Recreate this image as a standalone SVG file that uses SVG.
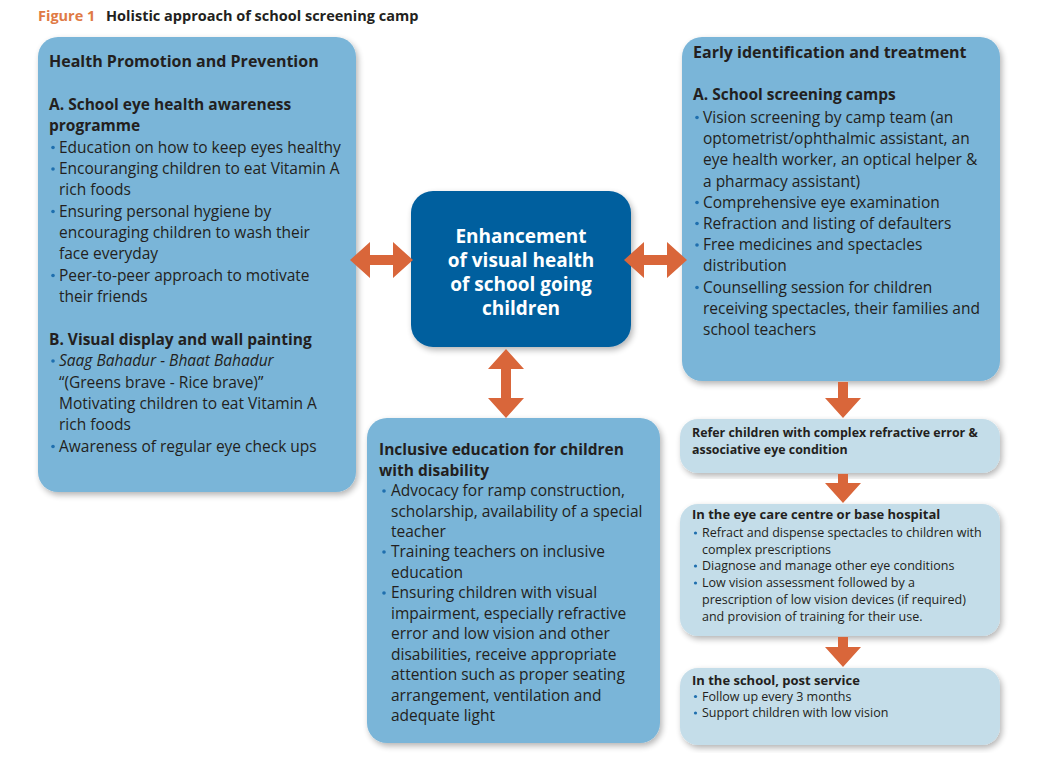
<svg xmlns="http://www.w3.org/2000/svg" width="1056" height="762" viewBox="0 0 1056 762">
<defs>
<filter id="sh" x="-10%" y="-10%" width="120%" height="120%">
<feGaussianBlur in="SourceAlpha" stdDeviation="3"/>
<feOffset dx="2" dy="3" result="b"/>
<feComponentTransfer><feFuncA type="linear" slope="0.3"/></feComponentTransfer>
<feMerge><feMergeNode/><feMergeNode in="SourceGraphic"/></feMerge>
</filter>
</defs>
<style>
text{font-family:"Open Sans","Noto Sans","DejaVu Sans",sans-serif;fill:#231f20}
.mid{fill:#7ab5d8}
.lt{fill:#c4dde9}
.dk{fill:#005f9e}
.t{font-size:15.5px}
.b{font-weight:bold}
.s{font-size:12.5px}
.sb{font-size:13px;font-weight:bold}
.w{fill:#ffffff;font-weight:bold;font-size:19px}
.dot{fill:#1f6fae}
.arr{fill:#d9663a}
</style>
<rect width="1056" height="762" fill="#ffffff"/>
<text y="21" font-size="14.5" font-weight="bold"><tspan x="38" style="fill:#e07a45">Figure 1</tspan><tspan x="106">Holistic approach of school screening camp</tspan></text>

<g id="health-promotion">
<rect class="mid" x="38" y="37" width="318" height="455" rx="20" filter="url(#sh)"/>
<text class="b" font-size="16" x="49" y="67">Health Promotion and Prevention</text>
<text class="t b" x="49" y="110">A. School eye health awareness</text>
<text class="t b" x="49" y="131">programme</text>
<g class="t">
<text x="59" y="152.5">Education on how to keep eyes healthy</text>
<text x="59" y="174">Encouranging children to eat Vitamin A</text>
<text x="59" y="195">rich foods</text>
<text x="59" y="216.5">Ensuring personal hygiene by</text>
<text x="59" y="237.5">encouraging children to wash their</text>
<text x="59" y="258.5">face everyday</text>
<text x="59" y="280.5">Peer-to-peer approach to motivate</text>
<text x="59" y="301.5">their friends</text>
</g>
<text class="t b" x="49" y="345">B. Visual display and wall painting</text>
<g class="t">
<text x="59" y="366" font-style="italic">Saag Bahadur - Bhaat Bahadur</text>
<text x="59" y="388">“(Greens brave - Rice brave)”</text>
<text x="59" y="409">Motivating children to eat Vitamin A</text>
<text x="59" y="430">rich foods</text>
<text x="59" y="451.5">Awareness of regular eye check ups</text>
</g>
<g class="dot">
<circle cx="53" cy="147.5" r="1.8"/><circle cx="53" cy="169" r="1.8"/><circle cx="53" cy="211.5" r="1.8"/><circle cx="53" cy="275.5" r="1.8"/><circle cx="53" cy="361" r="1.8"/><circle cx="53" cy="446.5" r="1.8"/>
</g>
</g>

<g id="center">
<rect class="dk" x="411" y="191" width="220" height="156" rx="22" filter="url(#sh)"/>
<text class="w" x="521" y="243" text-anchor="middle">Enhancement</text>
<text class="w" x="521" y="267" text-anchor="middle">of visual health</text>
<text class="w" x="521" y="291" text-anchor="middle">of school going</text>
<text class="w" x="521" y="315" text-anchor="middle">children</text>
</g>

<g id="early-identification">
<rect class="mid" x="682" y="37" width="318" height="344" rx="20" filter="url(#sh)"/>
<text class="b" font-size="16" x="693" y="58">Early identification and treatment</text>
<text class="t b" x="693" y="100">A. School screening camps</text>
<g class="t">
<text x="703" y="122.5">Vision screening by camp team (an</text>
<text x="703" y="143.5">optometrist/ophthalmic assistant, an</text>
<text x="703" y="165">eye health worker, an optical helper &amp;</text>
<text x="703" y="186.5">a pharmacy assistant)</text>
<text x="703" y="207.5">Comprehensive eye examination</text>
<text x="703" y="228.5">Refraction and listing of defaulters</text>
<text x="703" y="250">Free medicines and spectacles</text>
<text x="703" y="271">distribution</text>
<text x="703" y="292.5">Counselling session for children</text>
<text x="703" y="313.5">receiving spectacles, their families and</text>
<text x="703" y="335">school teachers</text>
</g>
<g class="dot">
<circle cx="697" cy="117.5" r="1.8"/><circle cx="697" cy="202.5" r="1.8"/><circle cx="697" cy="223.5" r="1.8"/><circle cx="697" cy="245" r="1.8"/><circle cx="697" cy="287.5" r="1.8"/>
</g>
</g>

<g id="inclusive-education">
<rect class="mid" x="367" y="418" width="293" height="325" rx="20" filter="url(#sh)"/>
<text class="t b" x="379" y="455">Inclusive education for children</text>
<text class="t b" x="379" y="475.5">with disability</text>
<g class="t">
<text x="391" y="496">Advocacy for ramp construction,</text>
<text x="391" y="516.5">scholarship, availability of a special</text>
<text x="391" y="537">teacher</text>
<text x="391" y="557">Training teachers on inclusive</text>
<text x="391" y="577.5">education</text>
<text x="391" y="598">Ensuring children with visual</text>
<text x="391" y="618.5">impairment, especially refractive</text>
<text x="391" y="639">error and low vision and other</text>
<text x="391" y="659.5">disabilities, receive appropriate</text>
<text x="391" y="680">attention such as proper seating</text>
<text x="391" y="700.5">arrangement, ventilation and</text>
<text x="391" y="721">adequate light</text>
</g>
<g class="dot">
<circle cx="384" cy="491" r="1.8"/><circle cx="384" cy="552" r="1.8"/><circle cx="384" cy="593" r="1.8"/>
</g>
</g>

<g id="refer">
<rect class="lt" x="680" y="419" width="320" height="54" rx="18" filter="url(#sh)"/>
<text class="sb" font-size="12.4" style="font-size:12.4px" x="692" y="437">Refer children with complex refractive error &amp;</text>
<text class="sb" style="font-size:12.4px" x="692" y="453.5">associative eye condition</text>
</g>

<g id="eye-care-centre">
<rect class="lt" x="680" y="504" width="320" height="132" rx="18" filter="url(#sh)"/>
<text class="sb" x="692" y="518.5">In the eye care centre or base hospital</text>
<g class="s">
<text x="702" y="537">Refract and dispense spectacles to children with</text>
<text x="702" y="553.5">complex prescriptions</text>
<text x="702" y="570">Diagnose and manage other eye conditions</text>
<text x="702" y="587">Low vision assessment followed by a</text>
<text x="702" y="603.5">prescription of low vision devices (if required)</text>
<text x="702" y="620.5">and provision of training for their use.</text>
</g>
<g class="dot">
<circle cx="695.5" cy="533" r="1.6"/><circle cx="695.5" cy="566" r="1.6"/><circle cx="695.5" cy="583" r="1.6"/>
</g>
</g>

<g id="school-post-service">
<rect class="lt" x="680" y="668" width="320" height="77" rx="18" filter="url(#sh)"/>
<text class="sb" x="692" y="684.5">In the school, post service</text>
<g class="s">
<text x="702" y="700.5">Follow up every 3 months</text>
<text x="702" y="717">Support children with low vision</text>
</g>
<g class="dot">
<circle cx="695.5" cy="696.5" r="1.6"/><circle cx="695.5" cy="713" r="1.6"/>
</g>
</g>

<g id="connectors">
<polygon class="arr" points="350,260 370,242 370,255 393,255 393,242 413,260 393,278 393,265 370,265 370,278"/>
<polygon class="arr" points="624,260 644,242 644,255 667,255 667,242 687,260 667,278 667,265 644,265 644,278"/>
<polygon class="arr" points="506,349 524,369 511,369 511,398 524,398 506,418 488,398 501,398 501,369 488,369"/>
<polygon class="arr" points="838,382 848,382 848,398 861,398 843,418 825,398 838,398"/>
<polygon class="arr" points="838,474 848,474 848,483 861,483 843,503 825,483 838,483"/>
<polygon class="arr" points="838,637 848,637 848,647 861,647 843,667 825,647 838,647"/>
</g>
</svg>
